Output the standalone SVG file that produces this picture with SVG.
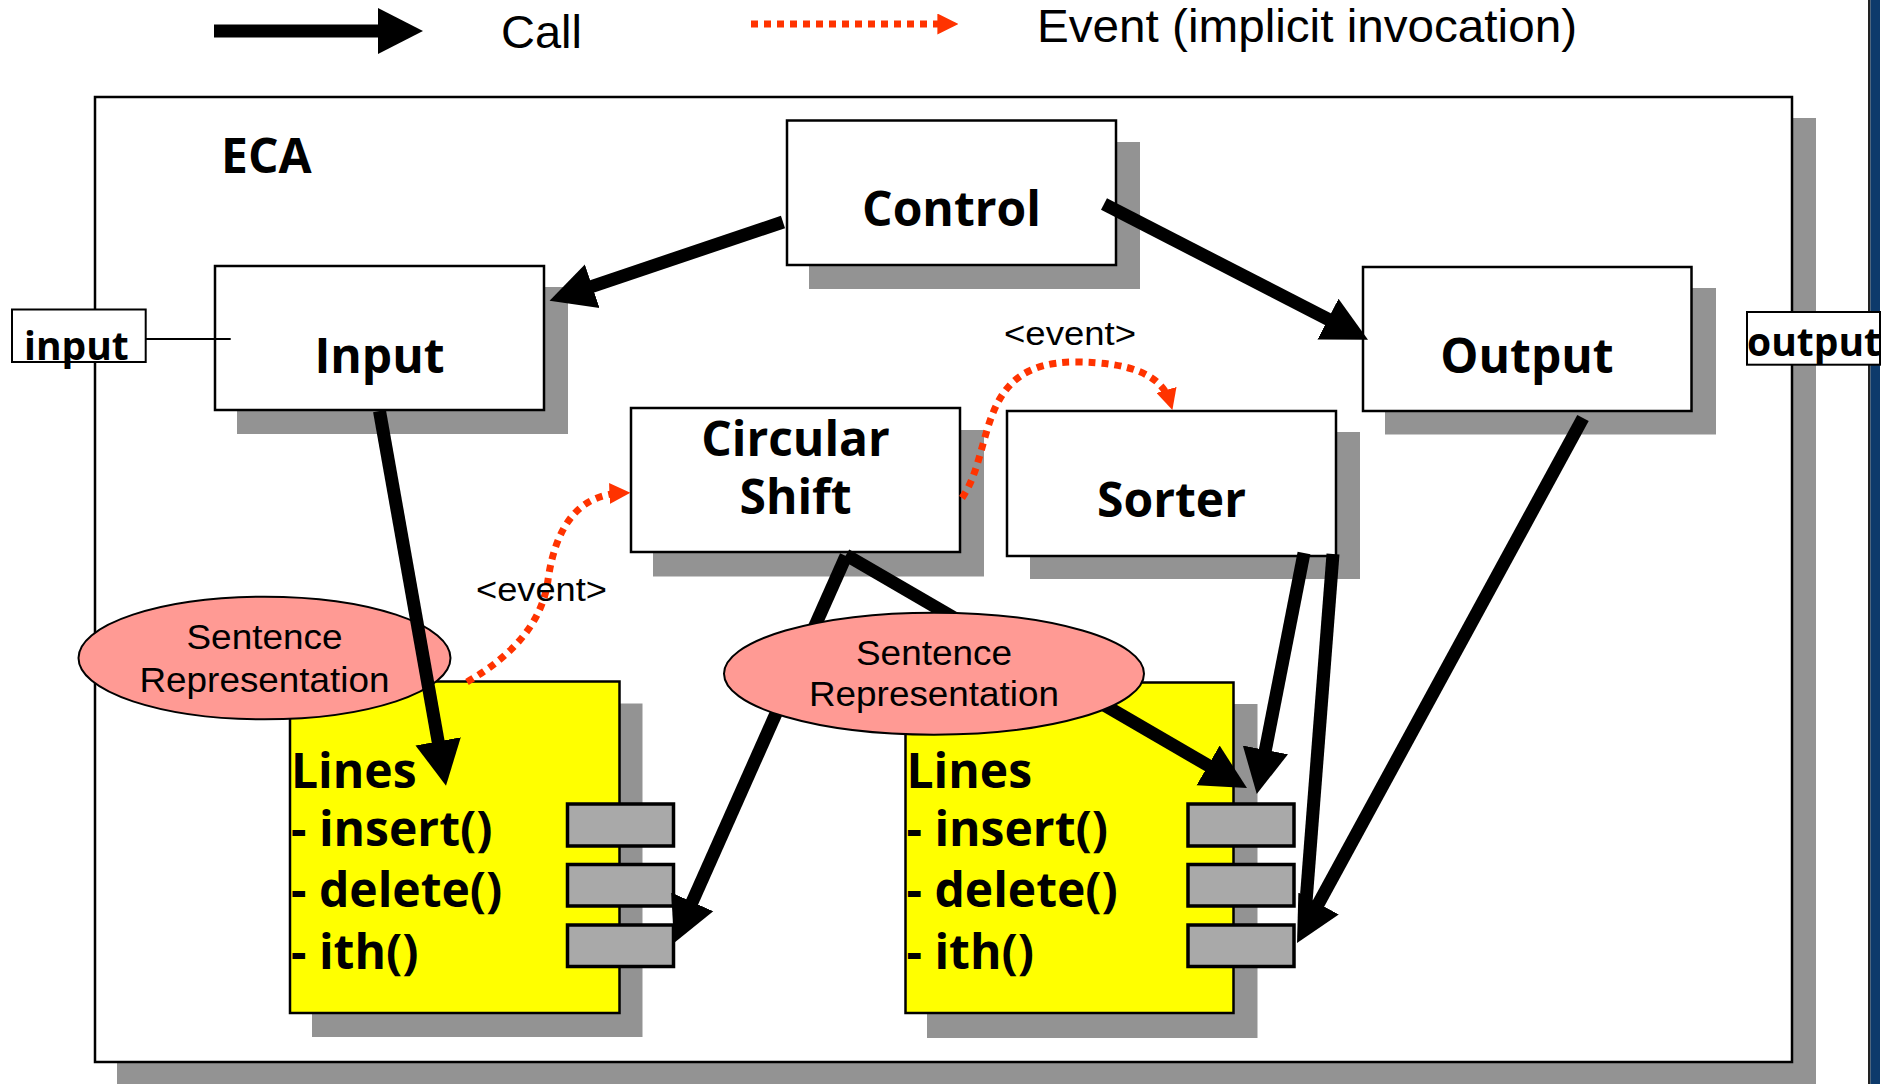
<svg xmlns="http://www.w3.org/2000/svg" width="1904" height="1084" viewBox="0 0 1904 1084">
<style>
.box{fill:#ffffff;stroke:#000;stroke-width:2.5}
.shadow{fill:#939393}
.lines{fill:#ffff00;stroke:#000;stroke-width:2.5}
.port{fill:#a9a9a9;stroke:#000;stroke-width:3.5}
.ell{fill:#ff9a94;stroke:#000;stroke-width:2}
.bold{font-family:"Open Sans","DejaVu Sans",sans-serif;font-weight:700;fill:#000}
.big{font-size:48px}
.reg{font-family:"Liberation Sans",Arial,sans-serif;fill:#000}
.call{fill:none;stroke:#000;stroke-width:13;marker-end:url(#callHead)}
.callplain{fill:none;stroke:#000;stroke-width:13}
.event{fill:none;stroke:#ff3300;stroke-width:7;stroke-dasharray:7 6;marker-end:url(#eventHead)}
</style>
<defs>
<marker id="callHead" markerUnits="userSpaceOnUse" markerWidth="46" markerHeight="48" refX="25" refY="23" orient="auto" viewBox="0 0 46 46">
<path d="M0,0 L45,23 L0,46 z" fill="#000"/>
</marker>
<marker id="eventHead" markerUnits="userSpaceOnUse" markerWidth="21" markerHeight="21" refX="12" refY="10" orient="auto" viewBox="0 0 20 20">
<path d="M0,0 L20,10 L0,20 z" fill="#ff3300"/>
</marker>
</defs>
<rect x="0" y="0" width="1904" height="1084" fill="#ffffff"/>
<g id="side-bar">
<rect x="1868" y="0" width="2.5" height="1084" fill="#222"/>
<rect x="1870.5" y="0" width="9.5" height="1084" fill="#0d3a6b"/>
</g>
<g id="legend">
<line x1="214" y1="31" x2="403" y2="31" class="call"/>
<text x="501" y="48" class="reg" font-size="47">Call</text>
<line x1="751" y1="24" x2="950" y2="24" class="event"/>
<text x="1037" y="42" class="reg" font-size="47" textLength="540" lengthAdjust="spacingAndGlyphs">Event (implicit invocation)</text>
</g>
<g id="eca">
<rect x="117" y="118" width="1699" height="1000" class="shadow"/>
<rect x="95" y="97" width="1697" height="965" class="box"/>
<text x="221" y="173" class="bold big">ECA</text>
</g>
<g id="control">
<rect x="809" y="142" width="331" height="147" class="shadow"/>
<rect x="787" y="120.5" width="329" height="144.5" class="box"/>
<text x="951.5" y="226" text-anchor="middle" class="bold big">Control</text>
</g>
<g id="input">
<rect x="237" y="287" width="331" height="147" class="shadow"/>
<rect x="215" y="266" width="329" height="144" class="box"/>
<text x="379.5" y="373" text-anchor="middle" class="bold big">Input</text>
</g>
<g id="output">
<rect x="1385" y="288" width="331" height="146.5" class="shadow"/>
<rect x="1363" y="267" width="328.5" height="144" class="box"/>
<text x="1527" y="373" text-anchor="middle" class="bold big">Output</text>
</g>
<g id="circular-shift">
<rect x="653" y="430" width="331" height="146.5" class="shadow"/>
<rect x="631" y="408" width="329" height="144" class="box"/>
<text x="795.5" y="455.5" text-anchor="middle" class="bold big">Circular</text>
<text x="795.5" y="514" text-anchor="middle" class="bold big">Shift</text>
</g>
<g id="sorter">
<rect x="1030" y="432" width="330" height="147" class="shadow"/>
<rect x="1007" y="411" width="329" height="145" class="box"/>
<text x="1171.5" y="517" text-anchor="middle" class="bold big">Sorter</text>
</g>
<g id="lines1">
<rect x="312" y="703.5" width="330.5" height="333.5" class="shadow"/>
<rect x="290" y="681.5" width="329.5" height="331.5" class="lines"/>
<text x="291" y="787.5" class="bold big">Lines</text>
<text x="291" y="846" class="bold big">- insert()</text>
<text x="291" y="906.5" class="bold big">- delete()</text>
<text x="291" y="969" class="bold big">- ith()</text>
<rect x="567.5" y="804" width="106" height="42" class="port"/>
<rect x="567.5" y="864.5" width="106" height="41.5" class="port"/>
<rect x="567.5" y="925" width="106" height="41.5" class="port"/>
</g>
<g id="lines2">
<rect x="927" y="704" width="330.5" height="334" class="shadow"/>
<rect x="905.5" y="682.5" width="328" height="330.5" class="lines"/>
<text x="906.5" y="787.5" class="bold big">Lines</text>
<text x="906.5" y="846" class="bold big">- insert()</text>
<text x="906.5" y="906.5" class="bold big">- delete()</text>
<text x="906.5" y="969" class="bold big">- ith()</text>
<rect x="1188" y="804" width="106" height="42" class="port"/>
<rect x="1188" y="864.5" width="106" height="41.5" class="port"/>
<rect x="1188" y="925" width="106" height="41.5" class="port"/>
</g>
<g id="sentence-rep1">
<ellipse cx="264.5" cy="658" rx="186" ry="61.3" class="ell"/>
<text x="264.5" y="648.5" text-anchor="middle" class="reg" font-size="35" textLength="156" lengthAdjust="spacingAndGlyphs">Sentence</text>
<text x="264.5" y="691.5" text-anchor="middle" class="reg" font-size="35" textLength="250" lengthAdjust="spacingAndGlyphs">Representation</text>
</g>
<g id="connectors">
<line x1="145.7" y1="339" x2="230.7" y2="339" stroke="#000" stroke-width="2"/>
<line x1="783" y1="222" x2="568.5" y2="294.3" class="call"/>
<line x1="1104" y1="204" x2="1350.2" y2="330.6" class="call"/>
<line x1="379.5" y1="411" x2="442.5" y2="766" class="call"/>
<line x1="846" y1="556" x2="682.1" y2="924.7" class="call"/>
<line x1="846" y1="555" x2="1229.7" y2="778" class="call"/>
<line x1="1304" y1="553" x2="1260.6" y2="774.4" class="call"/>
<line x1="1333" y1="554" x2="1305" y2="915" class="callplain"/>
<line x1="1583" y1="418" x2="1306.6" y2="925.4" class="call"/>
<path d="M 467 682 Q 540 640 548 580 Q 560 495 622 493" class="event"/>
<path d="M 962 498 C 995 450 975 362 1075 362 C 1130 362 1162 375 1170 402" class="event"/>
<text x="541.5" y="601" text-anchor="middle" class="reg" font-size="33" textLength="131" lengthAdjust="spacingAndGlyphs">&lt;event&gt;</text>
<text x="1070" y="345" text-anchor="middle" class="reg" font-size="33" textLength="132" lengthAdjust="spacingAndGlyphs">&lt;event&gt;</text>
</g>
<g id="sentence-rep2">
<ellipse cx="934" cy="673.7" rx="210" ry="61" class="ell"/>
<text x="934" y="665" text-anchor="middle" class="reg" font-size="35" textLength="156" lengthAdjust="spacingAndGlyphs">Sentence</text>
<text x="934" y="706" text-anchor="middle" class="reg" font-size="35" textLength="250" lengthAdjust="spacingAndGlyphs">Representation</text>
</g>
<g id="input-port">
<rect x="12" y="309.5" width="133.7" height="52.5" fill="#fff" stroke="#000" stroke-width="2"/>
<text x="24" y="359.5" class="bold" font-size="39">input</text>
</g>
<g id="output-port">
<rect x="1747" y="312" width="133" height="52.7" fill="#fff" stroke="#000" stroke-width="2"/>
<text x="1747" y="356" class="bold" font-size="39">output</text>
</g>
</svg>
